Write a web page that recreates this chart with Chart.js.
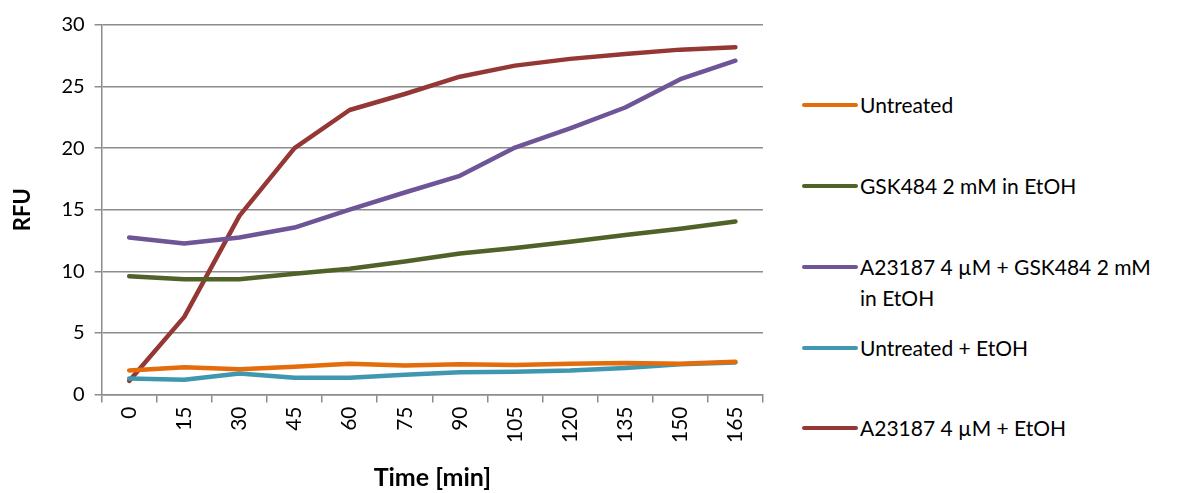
<!DOCTYPE html>
<html>
<head>
<meta charset="utf-8">
<script src="https://cdn.jsdelivr.net/npm/chart.js@4.4.1/dist/chart.umd.min.js"></script>
<style>
  body { margin: 0; background: #fff; font-family: Lato, "Open Sans", sans-serif; }
  .wrap { position: relative; width: 1187px; height: 493px; }
  #chart { position: absolute; left: 0; top: 0; }
  .legend { position: absolute; left: 802px; top: 0; color: #000; font-size: 21px; }
  .item { position: absolute; left: 0; white-space: nowrap; line-height: 31px; }
  .item .sw { position: absolute; left: 0; top: 14px; width: 56px; height: 4px; border-radius: 2px; }
  .item .tx { position: absolute; left: 58px; top: 0; }
</style>
</head>
<body>
<div class="wrap">
  <canvas id="chart" width="780" height="493"></canvas>
  <div class="legend" id="legend"></div>
</div>
<script>
// time points (min)
const times = ['0', '15', '30', '45', '60', '75', '90', '105', '120', '135', '150', '165'];

const untreated     = [1.95, 2.2, 2.05, 2.25, 2.5, 2.35, 2.45, 2.4, 2.5, 2.55, 2.5, 2.65];
const gsk484        = [9.6, 9.35, 9.35, 9.8, 10.2, 10.8, 11.45, 11.9, 12.4, 12.95, 13.45, 14.05];
const a23187Gsk     = [12.75, 12.25, 12.75, 13.55, 15.0, 16.4, 17.75, 20.05, 21.6, 23.3, 25.6, 27.1];
const untreatedEtoh = [1.3, 1.2, 1.7, 1.35, 1.35, 1.6, 1.8, 1.85, 1.95, 2.15, 2.45, 2.6];
const a23187Etoh    = [1.1, 6.3, 14.5, 20.0, 23.1, 24.4, 25.8, 26.7, 27.25, 27.65, 28.0, 28.2];

const names = ['Untreated', 'GSK484 2 mM in EtOH', 'A23187 4 µM + GSK484 2 mM in EtOH', 'Untreated + EtOH', 'A23187 4 µM + EtOH'];
const colors = ['#E46C0A', '#4F6228', '#6D5597', '#3F98B0', '#953735'];
const series = [untreated, gsk484, a23187Gsk, untreatedEtoh, a23187Etoh];

// legend rows (top of each text line)
const legendTops = [89, 170, 251, 332, 412];
const legendTexts = ['Untreated', 'GSK484 2 mM in EtOH', 'A23187 4 µM + GSK484 2 mM<br>in EtOH', 'Untreated + EtOH', 'A23187 4 µM + EtOH'];

const legend = document.getElementById('legend');
names.forEach((n, i) => {
    const d = document.createElement('div');
    d.className = 'item';
    d.style.top = legendTops[i] + 'px';
    d.innerHTML = `<span class="sw" style="background:${colors[i]}"></span><span class="tx">${legendTexts[i]}</span>`;
    legend.appendChild(d);
});

const gridCol = '#8c8c8c';
const tickFont = { family: 'Lato, "Open Sans", sans-serif', size: 21 };

new Chart(document.getElementById('chart'), {
    type: 'line',
    data: {
        labels: times,
        datasets: series.map((s, i) => ({
            label: names[i],
            data: s,
            borderColor: colors[i],
            backgroundColor: colors[i],
            borderWidth: 4.5,
            pointRadius: 0,
            tension: 0,
            borderCapStyle: 'round',
            borderJoinStyle: 'round'
        }))
    },
    options: {
        responsive: false,
        animation: false,
        layout: { padding: { left: 6, right: 17, top: 25, bottom: 0 } },
        plugins: {
            legend: { display: false },
            tooltip: { enabled: false }
        },
        scales: {
            x: {
                offset: true,
                grid: { offset: true, drawOnChartArea: false, color: gridCol, lineWidth: 1.5, tickLength: 8 },
                border: { color: gridCol, width: 1.5 },
                ticks: { color: '#000', font: tickFont, minRotation: 90, maxRotation: 90, autoSkip: false, padding: 4 },
                title: { display: true, text: 'Time [min]', color: '#000', font: { family: tickFont.family, size: 25, weight: 'bold' }, padding: { top: 16, bottom: 0 } }
            },
            y: {
                min: 0,
                max: 30,
                ticks: { stepSize: 5, color: '#000', font: { family: tickFont.family, size: 20 }, padding: 10 },
                grid: { color: gridCol, lineWidth: 1.5, tickLength: 7 },
                border: { color: gridCol, width: 1.5 },
                title: { display: true, text: 'RFU', color: '#000', font: { family: tickFont.family, size: 22, weight: 'bold' }, padding: { bottom: 15 } }
            }
        }
    }
});
</script>
</body>
</html>
